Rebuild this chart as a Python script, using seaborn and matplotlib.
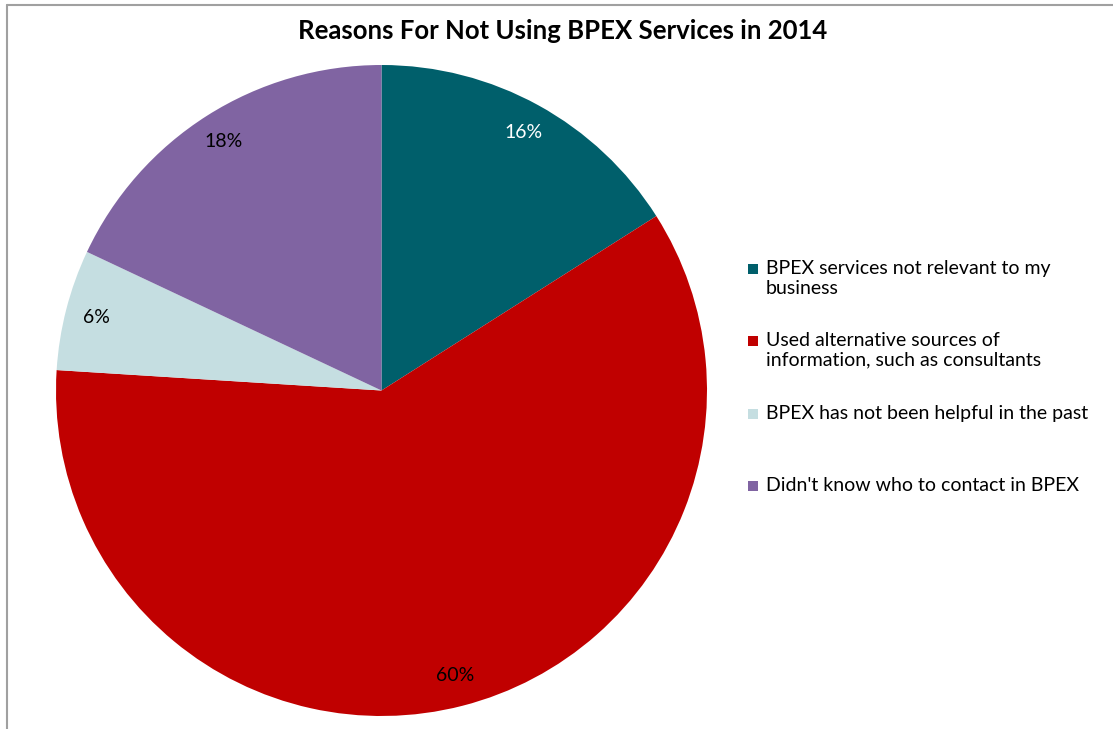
import matplotlib
matplotlib.use("Agg")
import matplotlib.pyplot as plt
import seaborn as sns
from matplotlib.patches import Rectangle

sns.set_theme(style="white")
plt.rcParams['font.family'] = ['Lato', 'DejaVu Sans']

# ---- data ----
categories = [
    "BPEX services not relevant to my\nbusiness",
    "Used alternative sources of\ninformation, such as consultants",
    "BPEX has not been helpful in the past",
    "Didn't know who to contact in BPEX",
]
values = [16, 60, 6, 18]
colors = ["#005F6B", "#C00000", "#C5DEE1", "#8064A2"]
label_colors = ["white", "black", "black", "black"]
title = "Reasons For Not Using BPEX Services in 2014"

W, H = 1113, 729
fig = plt.figure(figsize=(W / 100, H / 100), dpi=100)
fig.patch.set_facecolor("white")

# pie axes: pixel box x 56..707, y 65..716
ax = fig.add_axes([56 / W, 1 - 716 / H, 651 / W, 651 / H])
wedges, texts, autotexts = ax.pie(
    values, colors=colors, startangle=90, counterclock=False,
    autopct=lambda p: f"{p:.0f}%", pctdistance=0.905,
    wedgeprops=dict(linewidth=0), radius=1.0,
    textprops=dict(fontsize=14),
)
for t, c in zip(autotexts, label_colors):
    t.set_color(c)
ax.set_xlim(-1, 1)
ax.set_ylim(-1, 1)
ax.set_aspect("equal")
ax.axis("off")

# title
fig.text(563 / W, 1 - 31 / H, title, ha="center", va="center",
         fontsize=18.5, fontweight="bold", color="black")

# legend drawn manually (evenly spaced slots)
slot_y = [270, 342, 415, 487]
for lab, col, y in zip(categories, colors, slot_y):
    fig.patches.append(Rectangle((748 / W, 1 - (y + 4) / H), 10 / W, 10 / H,
                                 transform=fig.transFigure, facecolor=col,
                                 edgecolor="none"))
    fig.text(766 / W, 1 - (y - 10) / H, lab, ha="left", va="top",
             fontsize=14, color="black", linespacing=1.2)

# outer border (top and left visible)
fig.add_artist(plt.Line2D([7 / W, 1.0], [1 - 5 / H, 1 - 5 / H],
                          transform=fig.transFigure, color="#A0A0A0", lw=1.5))
fig.add_artist(plt.Line2D([7 / W, 7 / W], [0, 1 - 5 / H],
                          transform=fig.transFigure, color="#A0A0A0", lw=1.5))

fig.savefig("out.png", dpi=100, facecolor="white")
